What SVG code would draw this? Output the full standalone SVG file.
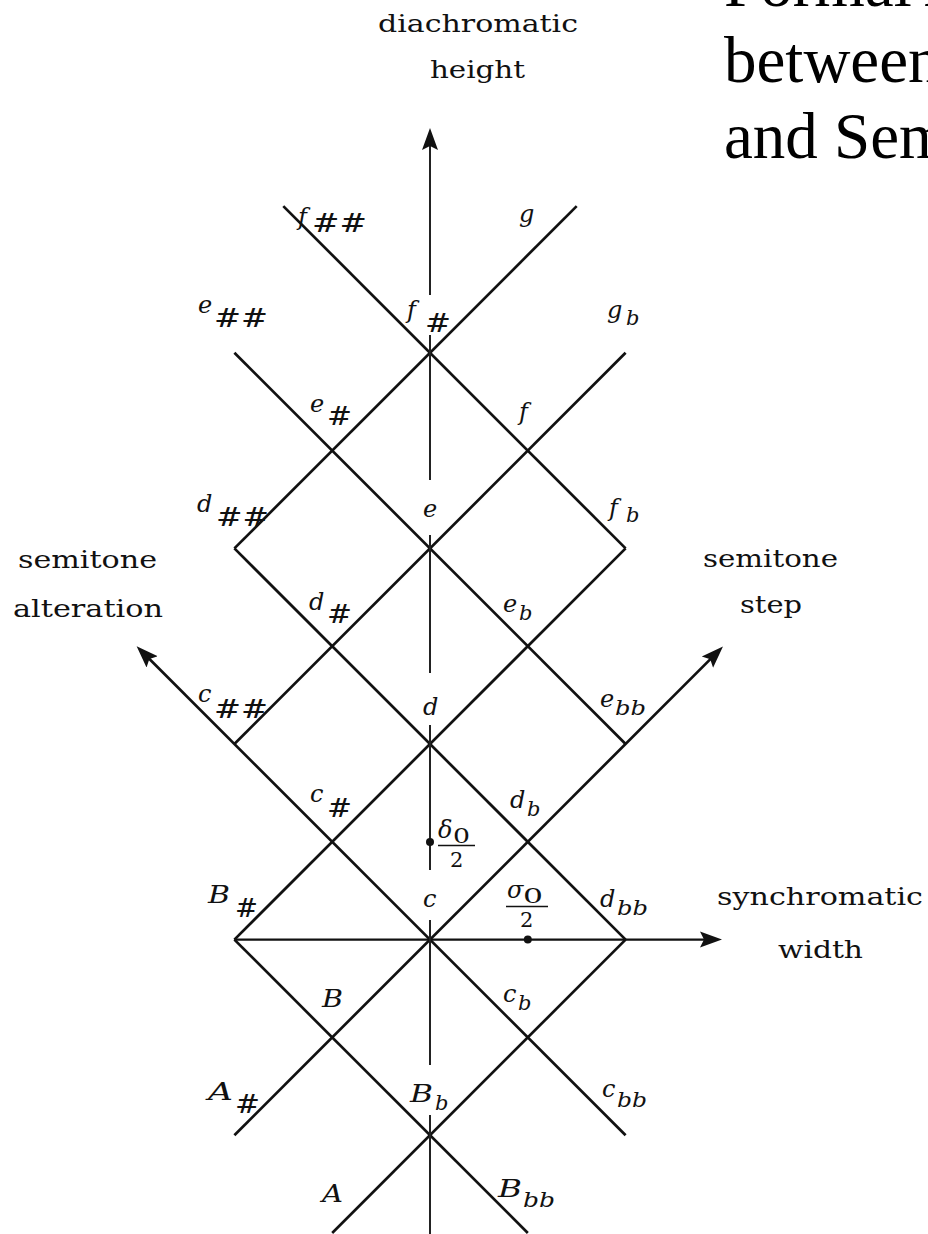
<svg xmlns="http://www.w3.org/2000/svg" width="928" height="1234" viewBox="0 0 928 1234">
<style>
.ln{stroke:#111;stroke-width:2.7;fill:none}
.ax{stroke:#222;stroke-width:2;fill:none}
.hz{stroke:#111;stroke-width:2.4;fill:none}
.fr{stroke:#111;stroke-width:1.6}
text{fill:#111}
.i{font-family:"DejaVu Serif",serif;font-style:italic;font-size:24px}
.s{font-family:"DejaVu Serif",serif;font-size:26px}
.b{font-family:"DejaVu Serif",serif;font-style:italic;font-size:21px}
.n{font-family:"DejaVu Serif",serif;font-size:21px}
.w{font-family:"DejaVu Serif",serif;font-size:24px}
.t{font-family:"Liberation Serif","Times New Roman",serif;font-size:65px;fill:#000}
</style>
<defs>
<marker id="ah" viewBox="0 -9 24 18" refX="12" refY="0" markerWidth="24" markerHeight="18" markerUnits="userSpaceOnUse" orient="auto">
<path d="M0,-8 L22,0 L0,8 L4,0 Z" fill="#111"/>
</marker>
</defs>
<rect width="928" height="1234" fill="#fff"/>
<g id="title">
<text class="t" x="724" y="6">Formal A</text>
<text class="t" x="724" y="82">between</text>
<text class="t" x="724" y="158">and Sem</text>
</g>
<g id="connectors">
<line class="ln" x1="332.2" y1="1233" x2="625.6" y2="939.6"/>
<line class="ln" x1="234.4" y1="1135.2" x2="715.9" y2="653.6" marker-end="url(#ah)"/>
<line class="ln" x1="234.4" y1="939.6" x2="625.6" y2="548.4"/>
<line class="ln" x1="234.4" y1="744" x2="625.6" y2="352.8"/>
<line class="ln" x1="234.4" y1="548.4" x2="576.7" y2="206.1"/>
<line class="ln" x1="625.6" y1="1135.2" x2="143.7" y2="653.3" marker-end="url(#ah)"/>
<line class="ln" x1="234.4" y1="939.6" x2="527.8" y2="1233"/>
<line class="ln" x1="234.4" y1="548.4" x2="625.6" y2="939.6"/>
<line class="ln" x1="234.4" y1="352.8" x2="625.6" y2="744"/>
<line class="ln" x1="283.3" y1="206.1" x2="625.6" y2="548.4"/>
<line class="hz" x1="234.4" y1="939.6" x2="712" y2="939.6" marker-end="url(#ah)"/>
<line class="ax" x1="430" y1="295" x2="430" y2="138" marker-end="url(#ah)"/>
<line class="ax" x1="430" y1="335" x2="430" y2="480"/>
<line class="ax" x1="430" y1="535" x2="430" y2="673"/>
<line class="ax" x1="430" y1="725" x2="430" y2="870"/>
<line class="ax" x1="430" y1="920" x2="430" y2="1065"/>
<line class="ax" x1="430" y1="1115" x2="430" y2="1234"/>
<circle cx="430" cy="842" r="4" fill="#111"/>
<circle cx="527.8" cy="939.6" r="4" fill="#111"/>
</g>
<g id="axis-labels">
<text class="w" x="378" y="32" textLength="200" lengthAdjust="spacingAndGlyphs">diachromatic</text>
<text class="w" x="430" y="78" textLength="95" lengthAdjust="spacingAndGlyphs">height</text>
<text class="w" x="18" y="568" textLength="139" lengthAdjust="spacingAndGlyphs">semitone</text>
<text class="w" x="13" y="617" textLength="150" lengthAdjust="spacingAndGlyphs">alteration</text>
<text class="w" x="703" y="567" textLength="135" lengthAdjust="spacingAndGlyphs">semitone</text>
<text class="w" x="740" y="613" textLength="62" lengthAdjust="spacingAndGlyphs">step</text>
<text class="w" x="717" y="905" textLength="206" lengthAdjust="spacingAndGlyphs">synchromatic</text>
<text class="w" x="778" y="958" textLength="85" lengthAdjust="spacingAndGlyphs">width</text>
</g>
<g id="n-fss"><text class="i" x="298" y="225">f</text><text class="s" x="312" y="232" textLength="55" lengthAdjust="spacingAndGlyphs">##</text></g>
<g id="n-g"><text class="i" x="519" y="222">g</text></g>
<g id="n-ess"><text class="i" x="198" y="313">e</text><text class="s" x="214" y="327" textLength="54" lengthAdjust="spacingAndGlyphs">##</text></g>
<g id="n-fs"><text class="i" x="407" y="318">f</text><text class="s" x="425" y="332" textLength="26" lengthAdjust="spacingAndGlyphs">#</text></g>
<g id="n-gb"><text class="i" x="607" y="318">g</text><text class="b" x="626" y="325">b</text></g>
<g id="n-es"><text class="i" x="310" y="412">e</text><text class="s" x="327" y="425" textLength="25" lengthAdjust="spacingAndGlyphs">#</text></g>
<g id="n-f"><text class="i" x="519" y="420">f</text></g>
<g id="n-dss"><text class="i" x="197" y="512">d</text><text class="s" x="216" y="526" textLength="53" lengthAdjust="spacingAndGlyphs">##</text></g>
<g id="n-e"><text class="i" x="423" y="517">e</text></g>
<g id="n-fb"><text class="i" x="609" y="516">f</text><text class="b" x="626" y="522">b</text></g>
<g id="n-ds"><text class="i" x="309" y="610">d</text><text class="s" x="327" y="623" textLength="25" lengthAdjust="spacingAndGlyphs">#</text></g>
<g id="n-eb"><text class="i" x="503" y="612">e</text><text class="b" x="519" y="620">b</text></g>
<g id="n-css"><text class="i" x="198" y="702">c</text><text class="s" x="214" y="718" textLength="54" lengthAdjust="spacingAndGlyphs">##</text></g>
<g id="n-d"><text class="i" x="423" y="715">d</text></g>
<g id="n-ebb"><text class="i" x="600" y="707">e</text><text class="b" x="615" y="715" textLength="31" lengthAdjust="spacingAndGlyphs">bb</text></g>
<g id="n-cs"><text class="i" x="310" y="802">c</text><text class="s" x="327" y="817" textLength="25" lengthAdjust="spacingAndGlyphs">#</text></g>
<g id="n-db"><text class="i" x="510" y="808">d</text><text class="b" x="527" y="816">b</text></g>
<g id="n-delta"><text class="i" x="438" y="838">δ</text><text class="n" x="453" y="843" textLength="17" lengthAdjust="spacingAndGlyphs">0</text><line class="fr" x1="438" y1="845.5" x2="475" y2="845.5"/><text class="n" x="450" y="867">2</text></g>
<g id="n-Bs"><text class="i" x="208" y="903" textLength="22" lengthAdjust="spacingAndGlyphs">B</text><text class="s" x="235" y="917" textLength="23" lengthAdjust="spacingAndGlyphs">#</text></g>
<g id="n-c"><text class="i" x="423" y="907">c</text></g>
<g id="n-sigma"><text class="i" x="507" y="898">σ</text><text class="n" x="523" y="903" textLength="20" lengthAdjust="spacingAndGlyphs">0</text><line class="fr" x1="506" y1="906.5" x2="548" y2="906.5"/><text class="n" x="520" y="927">2</text></g>
<g id="n-dbb"><text class="i" x="600" y="907">d</text><text class="b" x="617" y="915" textLength="31" lengthAdjust="spacingAndGlyphs">bb</text></g>
<g id="n-B"><text class="i" x="322" y="1007" textLength="21" lengthAdjust="spacingAndGlyphs">B</text></g>
<g id="n-cb"><text class="i" x="503" y="1002">c</text><text class="b" x="518" y="1010">b</text></g>
<g id="n-As"><text class="i" x="208" y="1100" textLength="25" lengthAdjust="spacingAndGlyphs">A</text><text class="s" x="235" y="1113" textLength="25" lengthAdjust="spacingAndGlyphs">#</text></g>
<g id="n-Bb"><text class="i" x="410" y="1102" textLength="23" lengthAdjust="spacingAndGlyphs">B</text><text class="b" x="435" y="1110">b</text></g>
<g id="n-cbb"><text class="i" x="602" y="1097">c</text><text class="b" x="617" y="1107" textLength="30" lengthAdjust="spacingAndGlyphs">bb</text></g>
<g id="n-A"><text class="i" x="322" y="1202" textLength="21" lengthAdjust="spacingAndGlyphs">A</text></g>
<g id="n-Bbb"><text class="i" x="498" y="1197" textLength="24" lengthAdjust="spacingAndGlyphs">B</text><text class="b" x="523" y="1207" textLength="32" lengthAdjust="spacingAndGlyphs">bb</text></g>
</svg>
